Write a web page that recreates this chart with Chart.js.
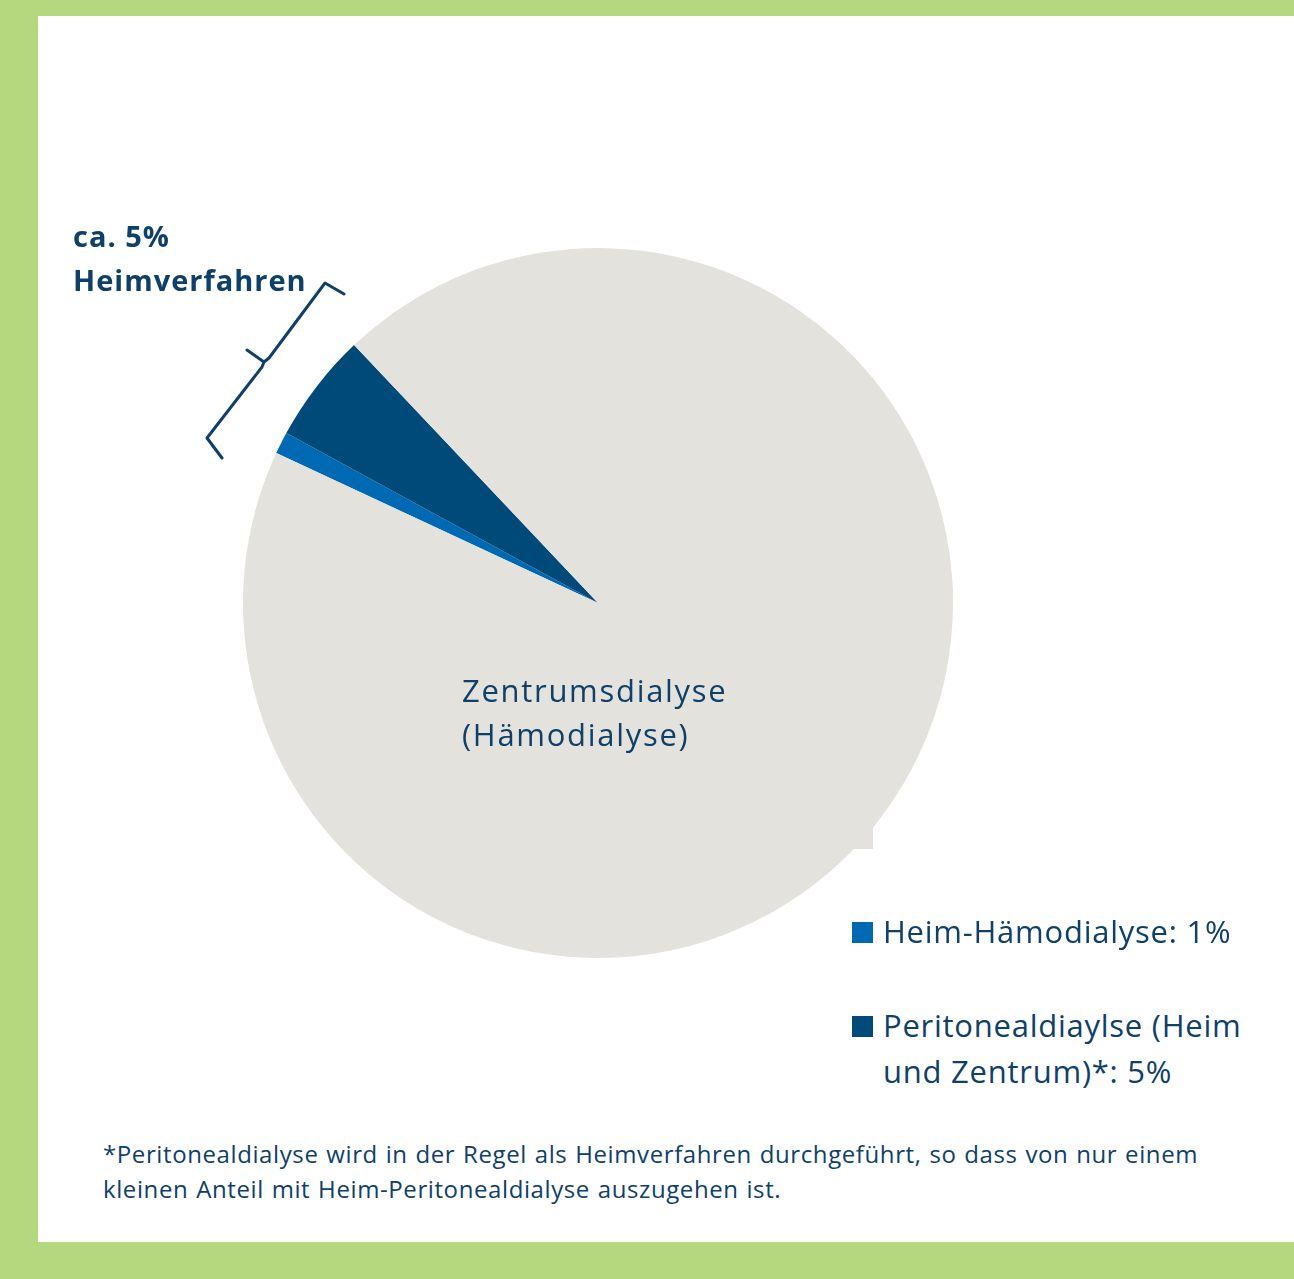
<!DOCTYPE html>
<html lang="de">
<head>
    <meta charset="UTF-8">
    <title>Dialyseverfahren</title>
    <style>
        body {
            margin: 0;
            width: 1294px;
            height: 1279px;
            background-color: #b5d87f;
            font-family: 'Open Sans', sans-serif;
            color: #0f4069;
            overflow: hidden;
        }
        #panel {
            position: absolute;
            left: 38px;
            top: 16px;
            width: 1256px;
            height: 1226px;
            background: #ffffff;
        }
        #deco {
            position: absolute;
            left: 0;
            top: 0;
        }
        #chart-box {
            position: absolute;
            left: 243px;
            top: 248px;
            width: 710px;
            height: 710px;
        }
        .txt {
            position: absolute;
            white-space: nowrap;
        }
        #heim {
            left: 73px;
            top: 214px;
            font-size: 29px;
            font-weight: bold;
            line-height: 44px;
            letter-spacing: 1px;
        }
        #zentrum {
            left: 462px;
            top: 668px;
            font-size: 31px;
            line-height: 44px;
            letter-spacing: 1.7px;
        }
        .legend-item {
            position: absolute;
            left: 852px;
            font-size: 31px;
            line-height: 46px;
            letter-spacing: 0.75px;
        }
        .legend-item .sq {
            position: absolute;
            left: 0;
            top: 14px;
            width: 21px;
            height: 21px;
        }
        .legend-item .lbl {
            margin-left: 31px;
            white-space: nowrap;
        }
        #footnote {
            left: 103px;
            top: 1136px;
            font-size: 24px;
            line-height: 35px;
            letter-spacing: 0.6px;
            word-spacing: 1px;
        }
    </style>
</head>
<body>

<div id="panel"></div>

<svg id="deco" width="1294" height="1279">
    <!-- kleiner grauer Absatz am Kreisrand -->
    <rect x="852" y="826" width="21" height="23" fill="#e3e2dd"></rect>
    <!-- geschweifte Klammer -->
    <path d="M344 294 L325 283 L269 358 L264 362 L247 350 M264 362 L262 367 L207 438 L222 458"
          fill="none" stroke="#0f4069" stroke-width="3" stroke-linejoin="round" stroke-linecap="round"></path>
</svg>

<div id="chart-box">
    <canvas id="pieChart"></canvas>
</div>

<div id="heim" class="txt">ca. 5%<br>Heimverfahren</div>
<div id="zentrum" class="txt">Zentrumsdialyse<br>(Hämodialyse)</div>

<div id="legend"></div>

<div id="footnote" class="txt">*Peritonealdialyse wird in der Regel als Heimverfahren durchgeführt, so dass von nur einem<br>kleinen Anteil mit Heim-Peritonealdialyse auszugehen ist.</div>

<script src="https://cdn.jsdelivr.net/npm/chart.js"></script>

<script>
    // Anteile in Prozent, im Uhrzeigersinn ab der Heim-Hämodialyse
    const labels = ['Heim-Hämodialyse', 'Peritonealdiaylse (Heim und Zentrum)*', 'Zentrumsdialyse (Hämodialyse)'];
    const values = [1, 5, 94];
    const colors = ['#0069b4', '#004a7a', '#e3e2dd'];

    // Legende (nur die beiden kleinen Segmente)
    const legendLines = [
        ['Heim-Hämodialyse: 1%'],
        ['Peritonealdiaylse (Heim', 'und Zentrum)*: 5%']
    ];
    const legendTops = [908, 1002];

    const legend = document.getElementById('legend');
    legendLines.forEach((lines, i) => {
        const item = document.createElement('div');
        item.className = 'legend-item';
        item.style.top = legendTops[i] + 'px';
        item.innerHTML = `<div class="sq" style="background:${colors[i]}"></div>` +
            `<div class="lbl">${lines.join('<br>')}</div>`;
        legend.appendChild(item);
    });

    const ctx = document.getElementById('pieChart').getContext('2d');
    new Chart(ctx, {
        type: 'pie',
        data: {
            labels: labels,
            datasets: [{
                data: values,
                backgroundColor: colors,
                borderWidth: 0
            }]
        },
        options: {
            responsive: true,
            maintainAspectRatio: false,
            animation: false,
            rotation: -65,
            layout: { padding: 0 },
            plugins: {
                legend: { display: false },
                tooltip: { enabled: false }
            }
        }
    });
</script>

</body>
</html>
